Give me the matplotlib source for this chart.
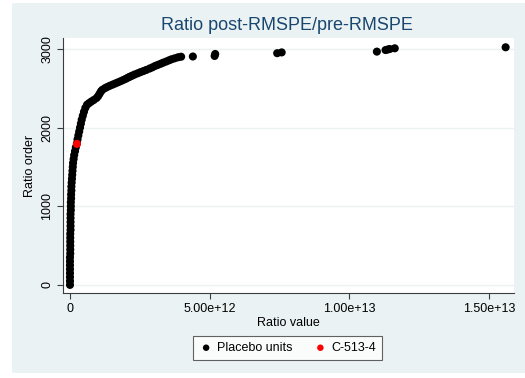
import matplotlib
matplotlib.use("Agg")
import matplotlib.pyplot as plt
from matplotlib.patches import Rectangle
from matplotlib.ticker import FuncFormatter

plt.rcParams['font.family'] = ['Liberation Sans', 'DejaVu Sans']

# placebo units: ratio value (in units of 1e12) and rank order
placebo_ratio_e12 = [
    0.00, 0.00, 0.00, 0.00, 0.00, 0.00, 0.00, 0.00, 0.01, 0.01,
    0.01, 0.01, 0.01, 0.01, 0.02, 0.02, 0.02, 0.02, 0.02, 0.03,
    0.03, 0.03, 0.04, 0.04, 0.05, 0.05, 0.06, 0.07, 0.08, 0.09,
    0.10, 0.11, 0.13, 0.15, 0.18, 0.21, 0.25, 0.27, 0.30, 0.33,
    0.36, 0.39, 0.42, 0.46, 0.50, 0.55, 0.61, 0.68, 0.76, 0.85,
    0.95, 1.01, 1.06, 1.11, 1.16, 1.25, 1.33, 1.42, 1.52, 1.62,
    1.72, 1.82, 1.91, 2.00, 2.08, 2.15, 2.23, 2.32, 2.43, 2.53,
    2.63, 2.73, 2.85, 2.95, 3.05, 3.15, 3.25, 3.34, 3.45, 3.55,
    3.64, 3.75, 3.87, 3.98, 4.40, 5.18, 5.20, 7.42, 7.58, 10.99,
    11.30, 11.38, 11.45, 11.63, 15.60,
]
placebo_rank = [
    1, 50, 100, 150, 200, 250, 300, 350, 400, 450,
    500, 550, 600, 650, 700, 750, 800, 850, 900, 950,
    1000, 1050, 1100, 1150, 1200, 1250, 1300, 1350, 1400, 1450,
    1500, 1550, 1600, 1650, 1700, 1750, 1800, 1850, 1900, 1950,
    2000, 2050, 2100, 2150, 2200, 2250, 2290, 2310, 2330, 2350,
    2375, 2400, 2430, 2460, 2480, 2500, 2515, 2530, 2545, 2560,
    2575, 2590, 2605, 2620, 2635, 2647, 2660, 2675, 2690, 2705,
    2718, 2732, 2750, 2765, 2783, 2797, 2811, 2825, 2840, 2855,
    2868, 2880, 2893, 2900, 2903, 2910, 2935, 2945, 2955, 2965,
    2985, 2992, 2998, 3007, 3020,
]

# treated unit
treated_ratio_e12 = [0.25]
treated_rank = [1792]

x_ticks = [0, 5e12, 1e13, 1.5e13]
y_ticks = [0, 1000, 2000, 3000]

bg = '#EAF2F3'
axis_col = '#3c3c3c'

fig = plt.figure(figsize=(5.25, 3.78), dpi=100, facecolor='white')
# outer graph region (screenshot has a thin white strip on the left/top)
fig.patches.append(Rectangle((12 / 525, 0.012), 1 - 12 / 525, 0.98,
                             transform=fig.transFigure, facecolor=bg,
                             edgecolor='none', zorder=-5))

ax = fig.add_axes([63 / 525, 1 - 293 / 378, 451 / 525, 255 / 378])
ax.set_facecolor('white')

ax.scatter([v * 1e12 for v in placebo_ratio_e12], placebo_rank, s=34,
           color='black', edgecolors='none', label='Placebo units', zorder=3)
ax.scatter([v * 1e12 for v in treated_ratio_e12], treated_rank, s=34,
           color='#FF0000', edgecolors='none', label='C-513-4', zorder=4)

ax.set_xlim(-0.25e12, 15.9e12)
ax.set_ylim(-102, 3138)
ax.set_xticks(x_ticks)
ax.set_yticks(y_ticks)
ax.xaxis.set_major_formatter(FuncFormatter(lambda v, p: '0' if v == 0 else f'{v:.2e}'))
ax.yaxis.set_major_formatter(FuncFormatter(lambda v, p: f'{v:.0f}'))
ax.grid(axis='y', color=bg, linewidth=1.0, zorder=1)
ax.set_axisbelow(True)

for side in ['top', 'right']:
    ax.spines[side].set_visible(False)
for side in ['left', 'bottom']:
    ax.spines[side].set_color(axis_col)
    ax.spines[side].set_linewidth(0.8)

ax.tick_params(axis='both', direction='out', length=4, width=0.8, color=axis_col,
               labelsize=9, labelcolor='black', pad=3)
for lab in ax.get_yticklabels():
    lab.set_rotation(90)
    lab.set_va('center')

ax.set_xlabel('Ratio value', fontsize=9, labelpad=2)
ax.set_ylabel('Ratio order', fontsize=9, labelpad=4)

fig.text(287 / 525, 1 - 25 / 378, 'Ratio post-RMSPE/pre-RMSPE', ha='center', va='center',
         fontsize=13, color='#1A476F')

leg = fig.legend(loc='center', bbox_to_anchor=(287.5 / 525, 1 - 348 / 378), ncol=2,
                 fontsize=9, frameon=True, fancybox=False, markerscale=0.8,
                 handletextpad=0.3, columnspacing=1.6, borderpad=0.45,
                 handlelength=1.2)
leg.get_frame().set_edgecolor(axis_col)
leg.get_frame().set_linewidth(0.8)
leg.get_frame().set_facecolor('white')

fig.savefig('out.png', dpi=100, facecolor=fig.get_facecolor())
